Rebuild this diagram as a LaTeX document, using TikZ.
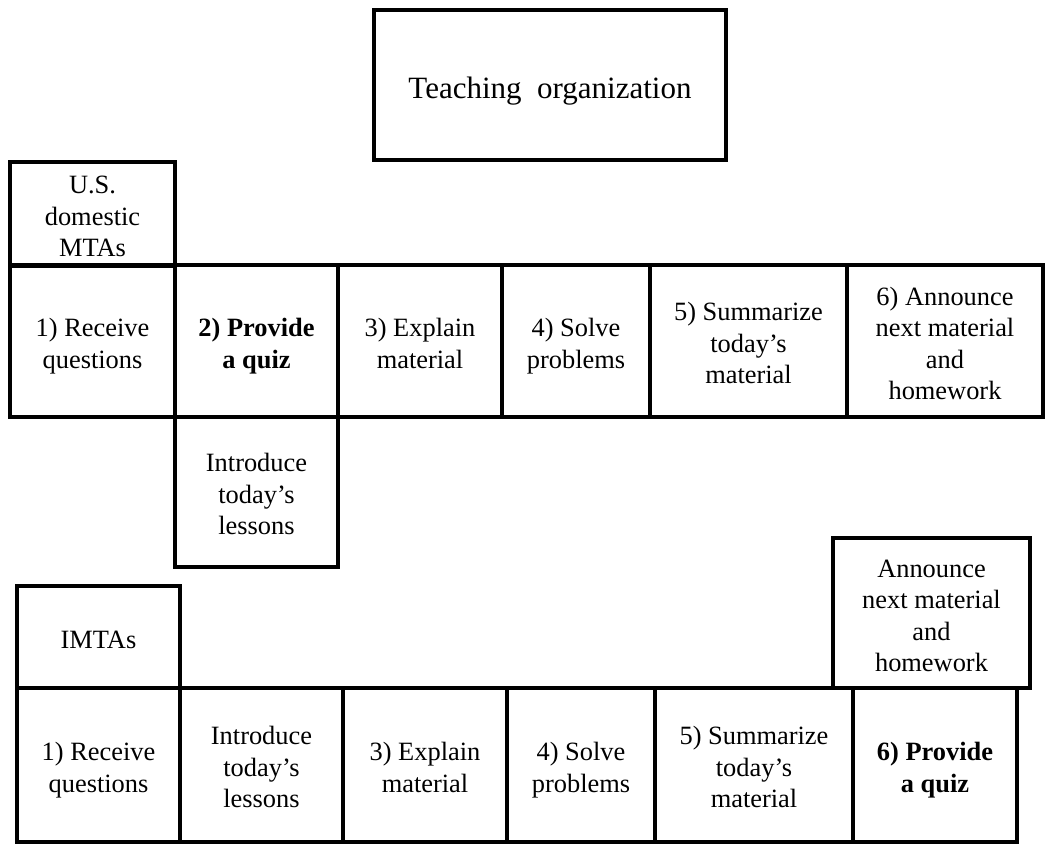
\documentclass[tikz,border=0pt]{standalone}
\usepackage{fontspec}
\setmainfont{Liberation Serif}
\newcommand\boxnode[6]{\node[box, minimum width={(#4-#2)*1pt}, minimum height={(#5-#3)*1pt}] (#1) at ({(#2+#4)/2},{(#3+#5)/2}) {\rule{0pt}{32pt}#6\strut};}
\begin{document}
\begin{tikzpicture}[x=1pt,y=-1pt,
  box/.style={draw, line width=3.6pt, inner sep=0pt, outer sep=0pt, align=center,
    font=\fontsize{26.4}{31.5}\selectfont},
  titlebox/.style={box, font=\fontsize{31}{37}\selectfont}]
\useasboundingbox (0,0) rectangle (1046,846);
\node[titlebox, minimum width=352pt, minimum height=150pt] (title) at (550,85) {\rule{0pt}{38pt}Teaching\ \ organization\strut};
\boxnode{usd}{10}{163}{175}{265}{U.S.\\domestic\\MTAs}
\boxnode{a1}{10}{265}{175}{417}{1) Receive\\questions}
\boxnode{a2}{175}{265}{338}{417}{\bfseries 2) Provide\\\bfseries a quiz}
\boxnode{a3}{338}{265}{502}{417}{3) Explain\\material}
\boxnode{a4}{502}{265}{650}{417}{4) Solve\\problems}
\boxnode{a5}{650}{265}{847}{417}{5) Summarize\\today’s\\material}
\boxnode{a6}{847}{265}{1043}{417}{6) Announce\\next material\\and\\homework}
\boxnode{intro}{175}{417}{338}{567}{Introduce\\today’s\\lessons}
\boxnode{imtas}{17}{586}{180}{688}{IMTAs}
\boxnode{ann}{833}{538}{1030}{688}{Announce\\next material\\and\\homework}
\boxnode{b1}{17}{688}{180}{842}{1) Receive\\questions}
\boxnode{b2}{180}{688}{343}{842}{Introduce\\today’s\\lessons}
\boxnode{b3}{343}{688}{507}{842}{3) Explain\\material}
\boxnode{b4}{507}{688}{655}{842}{4) Solve\\problems}
\boxnode{b5}{655}{688}{853}{842}{5) Summarize\\today’s\\material}
\boxnode{b6}{853}{688}{1017}{842}{\bfseries 6) Provide\\\bfseries a quiz}
\end{tikzpicture}
\end{document}
